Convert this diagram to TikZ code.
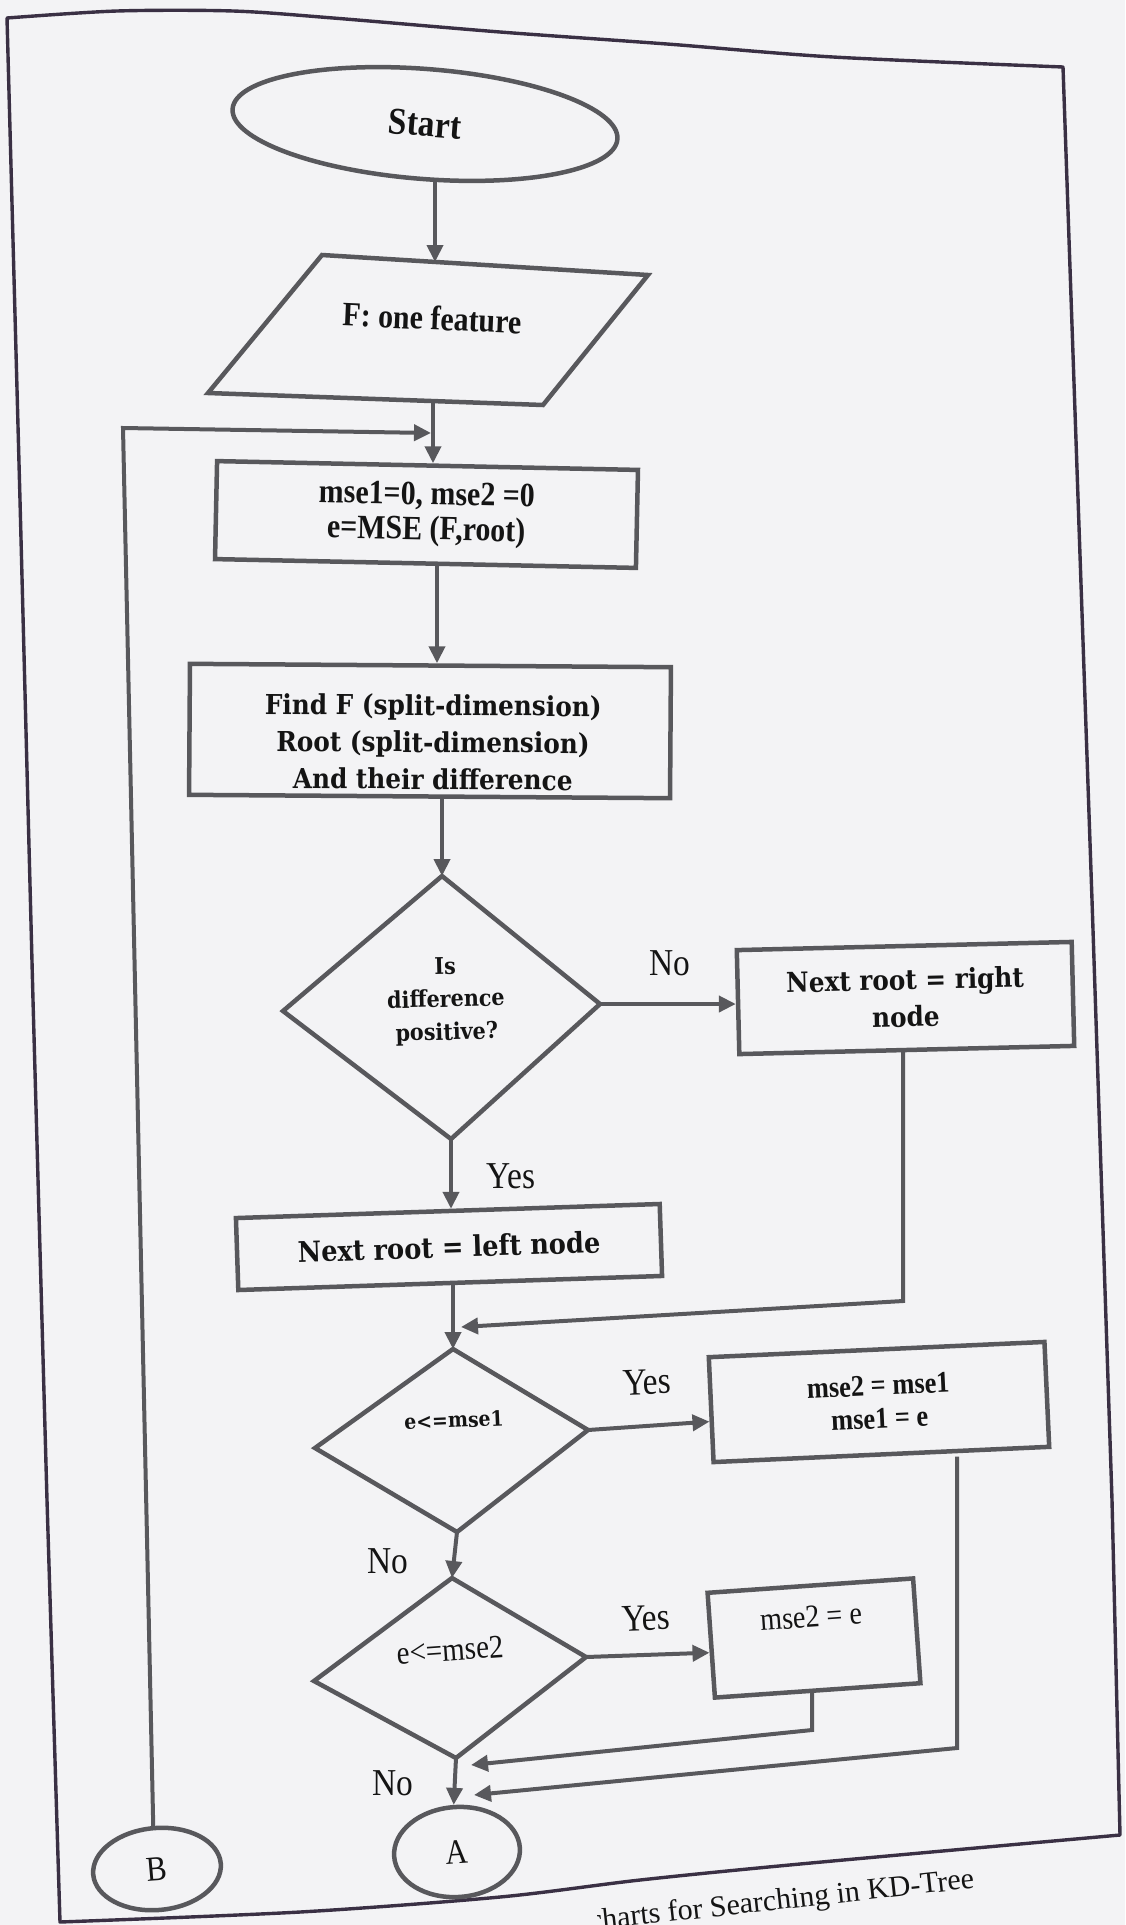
\documentclass[tikz,border=0pt]{standalone}
\usepackage{fontspec}
\usetikzlibrary{shapes.geometric,arrows.meta}
\newfontfamily\tnr[FakeStretch=0.88]{Liberation Serif}
\newfontfamily\djv[FakeStretch=0.9]{DejaVu Serif}
\newfontfamily\capfont{Liberation Serif}
\definecolor{paper}{RGB}{243,243,245}
\definecolor{ink}{RGB}{88,88,92}
\definecolor{rim}{RGB}{58,48,68}
\definecolor{txt}{RGB}{20,20,20}
\newcommand\fsz[2]{\fontsize{#1}{#2}\selectfont}

\begin{document}
\begin{tikzpicture}[x=1pt,y=-1pt,
  shp/.style={draw=ink,line width=4.5pt,line join=miter},
  box/.style={shp,rectangle,inner sep=0pt,text=txt},
  oval/.style={shp,ellipse,inner sep=0pt,text=txt},
  arr/.style={draw=ink,line width=4pt,-{Triangle[length=17pt,width=16pt]}},
  word/.style={inner sep=0pt,text=txt,align=center},
  lbl/.style={inner sep=0pt,text=txt,font=\fsz{38}{42}\tnr},
]
% paper
\fill[paper] (0,0) rectangle (1125,1925);
\useasboundingbox (0,0) rectangle (1125,1925);

% page frame
\draw[rim,line width=3.4pt,line join=round]
  plot[smooth,tension=0.5] coordinates {(7,18) (117,11) (233,11) (333,18) (500,32) (667,44) (833,57) (1063,67)}
  -- (1092,900) -- (1112,1500) -- (1120,1835)
  -- plot[smooth,tension=0.5] coordinates {(1120,1835) (800,1864) (640,1880) (500,1897) (300,1912) (60,1922)}
  -- (47,1500) -- (33,1000) -- (20,500) -- cycle;

% start
\node[oval,minimum width=386pt,minimum height=110pt,rotate=-4.5,
      font=\fsz{38}{44}\tnr\bfseries] (start) at (425,124) {Start};

% input parallelogram
\coordinate (pTL) at (322,255);
\coordinate (pTR) at (648,275);
\coordinate (pBR) at (543,405);
\coordinate (pBL) at (208,393);
\draw[shp] (pTL) -- (pTR) -- (pBR) -- (pBL) -- cycle;
\node[word,rotate=-2.5,font=\fsz{34}{38}\tnr\bfseries] (feat) at (432,318) {F: one feature};
\coordinate (p-n) at (435,262);
\coordinate (p-s) at (433,400);

% initialisation
\node[box,minimum width=421pt,minimum height=98pt,rotate=-1.2,align=center,
      font=\fsz{34}{35}\tnr\bfseries] (init) at (426.5,514.5) {mse1=0, mse2 =0\\e=MSE (F,root)};

% split dimension
\node[box,minimum width=481pt,minimum height=131pt,rotate=-0.4] (find) at (430,731) {};
\node[word,rotate=-0.4,font=\fsz{27.5}{37}\djv\bfseries] (findtxt) at (433,742)
  {Find F (split-dimension)\\Root (split-dimension)\\And their difference};

% decision: difference positive
\coordinate (d1t) at (442,876);
\coordinate (d1r) at (600,1004);
\coordinate (d1b) at (451,1139);
\coordinate (d1l) at (283,1011);
\draw[shp] (d1t) -- (d1r) -- (d1b) -- (d1l) -- cycle;
\node[word,rotate=1.5,font=\fsz{23}{33}\djv\bfseries] (d1) at (446,1001) {Is\\difference\\positive?};

% branches
\node[box,minimum width=335pt,minimum height=104pt,rotate=1.4,align=center,
      font=\fsz{27.5}{37}\djv\bfseries] (rbox) at (905.5,998) {Next root = right\\node};
\node[box,minimum width=424pt,minimum height=72pt,rotate=1.9,
      font=\fsz{28.5}{30}\djv\bfseries] (lbox) at (449,1247) {Next root = left node};

% decision: e <= mse1
\coordinate (d2t) at (453,1349);
\coordinate (d2r) at (588,1430);
\coordinate (d2b) at (457,1532);
\coordinate (d2l) at (315,1448);
\draw[shp] (d2t) -- (d2r) -- (d2b) -- (d2l) -- cycle;
\node[word,rotate=2.5,font=\fsz{21}{24}\djv\bfseries] (d2) at (454,1420) {e<=mse1};

\node[box,minimum width=336pt,minimum height=105pt,rotate=2.6,align=center,
      font=\fsz{30}{33}\tnr\bfseries] (mbox) at (879,1402) {mse2 = mse1\\mse1 = e};

% decision: e <= mse2
\coordinate (d3t) at (452,1578);
\coordinate (d3r) at (586,1657);
\coordinate (d3b) at (456,1758);
\coordinate (d3l) at (314,1681);
\draw[shp] (d3t) -- (d3r) -- (d3b) -- (d3l) -- cycle;
\node[word,rotate=4,font=\fsz{33}{36}\tnr] (d3) at (450,1650) {e<=mse2};

\node[box,minimum width=206pt,minimum height=105pt,rotate=4] (ebox) at (814,1638) {};
\node[word,rotate=4,font=\fsz{32}{36}\tnr] (eboxtxt) at (811,1617) {mse2 = e};

% connectors A and B
\node[oval,minimum width=126pt,minimum height=90pt,rotate=4,font=\fsz{35}{40}\tnr] (A) at (457,1852) {A};
\node[oval,minimum width=128pt,minimum height=82pt,rotate=5,font=\fsz{35}{40}\tnr] (B) at (157,1869) {B};

% flow
\coordinate (t1) at (437,0);
\coordinate (loop) at (123,428);
\coordinate (join) at (431,433);
\coordinate (m1c) at (903,1301);
\coordinate (m1t) at (461,1327);
\coordinate (m2c) at (957,1748);
\coordinate (m2t) at (474,1795);
\coordinate (m3c) at (812,1730);
\coordinate (m3t) at (471,1765);

\draw[arr] (start.south -| p-n) -- (p-n);
\draw[arr] (p-s) -- (p-s |- init.north);
\draw[arr] (B.north) -- (loop) -- (join);
\draw[arr] (init.south -| t1) -- (find.north -| t1);
\draw[arr] (find.south -| d1t) -- (d1t);
\draw[arr] (d1b) -- (d1b |- lbox.north);
\draw[arr] (d1r) -- (d1r -| rbox.west);
\draw[arr] (rbox.south -| m1c) -- (m1c) -- (m1t);
\draw[arr] (lbox.south -| d2t) -- (d2t);
\draw[arr] (d2r) -- (mbox.184);
\draw[arr] (d2b) -- (d3t);
\draw[arr] (d3r) -- (ebox.184);
\draw[arr] (d3b) -- (A.north);
\draw[arr] (ebox.south -| m3c) -- (m3c) -- (m3t);
\draw[arr] (mbox.south -| m2c) -- (m2c) -- (m2t);

% branch labels
\node[lbl] (no1) at (670,963) {No};
\node[lbl] (yes1) at (511,1176) {Yes};
\node[lbl,rotate=2] (yes2) at (647,1382) {Yes};
\node[lbl] (no2) at (388,1561) {No};
\node[lbl,rotate=2] (yes3) at (646,1618) {Yes};
\node[lbl] (no3) at (393,1783) {No};

% caption, running off the lower edge of the sheet
\begin{scope}
  \clip (597,1700) rectangle (1125,1925);
  \node[inner sep=0pt,text=txt,font=\fsz{30}{34}\capfont,anchor=base east,rotate=6.3] (cap) at (975,1888)
    {Flowcharts for Searching in KD-Tree};
\end{scope}
\end{tikzpicture}
\end{document}
